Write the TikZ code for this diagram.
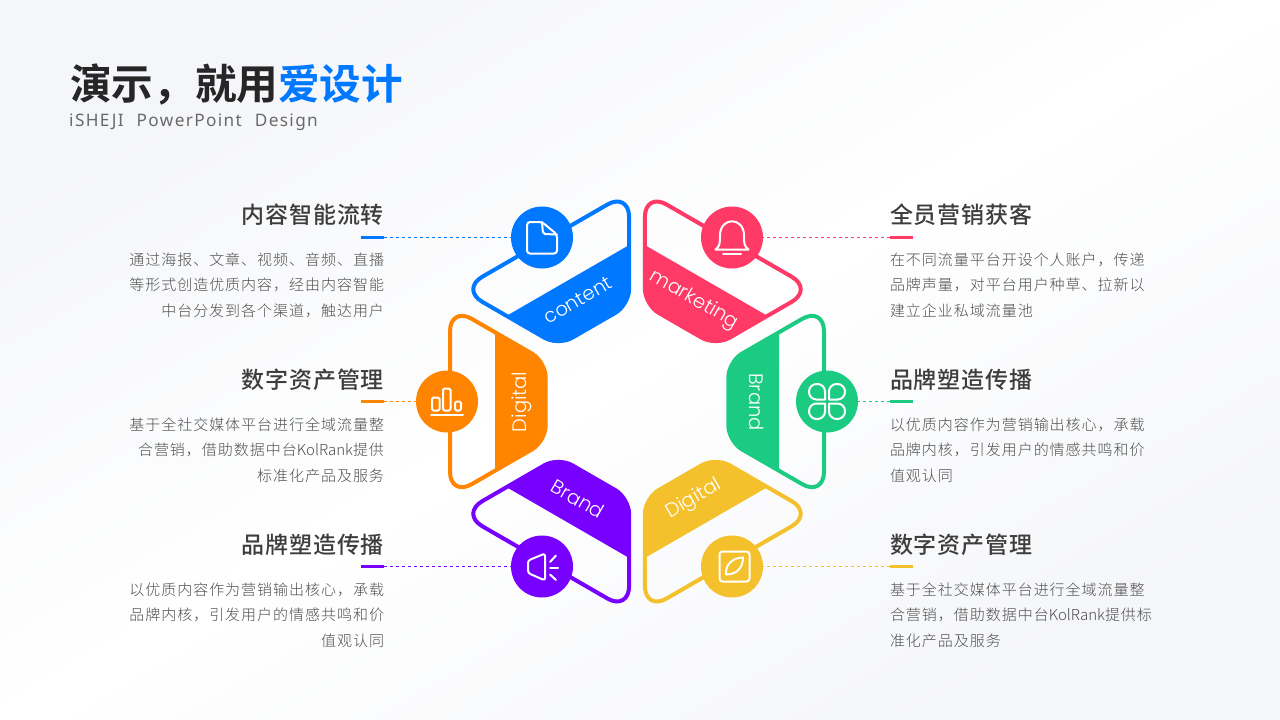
\documentclass[tikz,border=0pt]{standalone}
\usepackage{fontspec}
\newfontfamily\cjkhead[LetterSpace=4]{Noto Sans CJK SC Medium}
\newfontfamily\cjkbody[LetterSpace=6.5]{Noto Sans CJK SC Light}
\newfontfamily\cjklatin{Noto Sans CJK SC Light}
\newfontfamily\cjktitle{Noto Sans CJK SC Bold}
\newfontfamily\subfont[LetterSpace=8, WordSpace=2.2]{Noto Sans}
\newfontfamily\tilefont{Poppins Light}
\definecolor{conBlue}{HTML}{0078FF}
\definecolor{marRed}{HTML}{FF3A66}
\definecolor{digOrange}{HTML}{FF8500}
\definecolor{braGreen}{HTML}{1CCB82}
\definecolor{braPurple}{HTML}{7800FF}
\definecolor{digYellow}{HTML}{F4C02C}
\definecolor{headGray}{HTML}{3D3D3D}
\definecolor{bodyGray}{HTML}{4F4F4F}
\definecolor{subGray}{HTML}{6A6A6A}
\definecolor{backGray}{HTML}{F5F6F9}
\tikzstyle{headLeft} = [shape=rectangle, text=headGray, inner sep=0pt, align=right,
	text width=280pt, font=\cjkhead\fontsize{23}{26}\selectfont]
\tikzstyle{headRight} = [headLeft, align=left]
\tikzstyle{bodyLeft} = [shape=rectangle, text=bodyGray, inner sep=0pt, align=right,
	text width=280pt, font=\cjkbody\fontsize{15}{25.5}\selectfont]
\tikzstyle{bodyRight} = [bodyLeft, align=left]
\tikzstyle{tileText} = [text=white, inner sep=0pt, font=\tilefont\fontsize{19.5}{24}\selectfont]
\tikzstyle{iconDot} = [shape=circle, minimum size=62pt, inner sep=0pt]
\tikzstyle{iconLine} = [draw=white, line width=2pt, line join=round, line cap=round]
\tikzstyle{barLine} = [line width=3pt]
\tikzstyle{linkLine} = [line width=0.8pt, dash pattern=on 3pt off 3pt]
\begin{document}
\begin{tikzpicture}[x=1pt, y=-1pt, node distance=70pt]
  \shade[top color=backGray, bottom color=backGray, middle color=white, shading angle=30]
    (0,0) rectangle (1280,720);
  \useasboundingbox (0,0) rectangle (1280,720);

  \node (Title) [anchor=west, inner sep=0pt, text=black!85, font=\cjktitle\fontsize{41.6}{48}\selectfont] at (70,85)
    {演示，就用\textcolor{conBlue}{爱设计}};
  \node (Sub) [anchor=west, inner sep=0pt, text=subGray, font=\subfont\fontsize{17.2}{22}\selectfont] at (69,122)
    {iSHEJI PowerPoint Design};

  % six tiles of the ring
  \foreach \ang/\col/\sc/\dx/\dy in {0/digOrange/1/0/0, -60/conBlue/1.022/3.4/4.65, -120/marRed/1.022/-3.4/4.65,
      180/braGreen/1/0/0, 120/digYellow/1.022/-3.4/-4.65, 60/braPurple/1.022/3.4/-4.65} {
    \begin{scope}[shift={(637+\dx,401.5+\dy)}, rotate=\ang, scale=\sc]
      \fill[\col] (-142,-69.2) [rounded corners=16pt] -- (-91.3,-40) -- (-91.3,40) [sharp corners] -- (-142,69.2) -- cycle;
      \draw[\col, line width=4pt, rounded corners=25pt] (-187,0) -- (-187,-95.2) [rounded corners=16pt] -- (-91.3,-40) -- (-91.3,40) [rounded corners=25pt] -- (-187,95.2) -- cycle;
    \end{scope}
  }

  \node (ConWord) [tileText, rotate=30] at (578,300) {content};
  \node (MarWord) [tileText, rotate=-30] at (694,300) {marketing};
  \node (DigWord) [tileText, rotate=90] at (522,402) {Digital};
  \node (BraWord) [tileText, rotate=-90] at (757,402) {Brand};
  \node (PurWord) [tileText, rotate=-30] at (578,499) {Brand};
  \node (YelWord) [tileText, rotate=30] at (694,499) {Digital};

  \node (ConDot) [iconDot, fill=conBlue] at (542,237.5) {};
  \node (MarDot) [iconDot, fill=marRed] at (732,237.5) {};
  \node (DigDot) [iconDot, fill=digOrange] at (447,401.5) {};
  \node (BraDot) [iconDot, fill=braGreen] at (827,401.5) {};
  \node (PurDot) [iconDot, fill=braPurple] at (542,566.5) {};
  \node (YelDot) [iconDot, fill=digYellow] at (732,566.5) {};

  % icons
  \begin{scope}[shift={(ConDot.center)}]
    \draw[iconLine, rounded corners=3pt] (0,-15.5) -- (-15,-15.5) -- (-15,16) -- (15,16) -- (15,-3) -- cycle;
    \draw[iconLine, rounded corners=2pt] (0,-15.5) -- (1,-3.5) -- (15,-3);
  \end{scope}
  \begin{scope}[shift={(MarDot.center)}]
    \draw[iconLine] (-16.5,12) -- (16.5,12) .. controls (12,9) and (12,5) .. (12,-2)
      .. controls (12,-21) and (-12,-21) .. (-12,-2) .. controls (-12,5) and (-12,9) .. (-16.5,12) -- cycle;
    \draw[iconLine] (-9,16.5) -- (9,16.5);
  \end{scope}
  \begin{scope}[shift={(DigDot.center)}]
    \draw[iconLine, rounded corners=1.5pt] (-15,-4) rectangle (-7.5,9);
    \draw[iconLine, rounded corners=1.5pt] (-4,-13) rectangle (3.5,9);
    \draw[iconLine, rounded corners=1.5pt] (8,0) rectangle (14,9);
    \draw[iconLine] (-16,13.5) -- (16,13.5);
  \end{scope}
  \begin{scope}[shift={(BraDot.center)}]
    \foreach \sx/\sy in {1/1, -1/1, 1/-1, -1/-1}
      \draw[iconLine] ({\sx*2},{\sy*2}) [rounded corners=7.5pt] -- ({\sx*2},{\sy*17.5}) -- ({\sx*18},{\sy*17.5}) -- ({\sx*18},{\sy*2}) [sharp corners] -- cycle;
  \end{scope}
  \begin{scope}[shift={(PurDot.center)}]
    \draw[iconLine, rounded corners=2.5pt] (3,-13) -- (3,14) -- (-14,6.5) -- (-14,-6) -- cycle;
    \draw[iconLine] (8,1.5) -- (16,1.5);
    \draw[iconLine] (8,-4.5) -- (14,-11);
    \draw[iconLine] (8,8) -- (14,13.5);
  \end{scope}
  \begin{scope}[shift={(YelDot.center)}]
    \draw[iconLine, rounded corners=3pt] (-12.5,-15) rectangle (17.5,15);
    \draw[iconLine] (-6,8) .. controls (-7,-3) and (2,-9) .. (11,-9) .. controls (11,1) and (5,8) .. (-6,8) -- cycle;
  \end{scope}

  % left column
  \node (CON) [headLeft] at (244,215) {内容智能流转};
  \node (ConText) [bodyLeft, below of=CON] {通过海报、文章、视频、音频、直播\\等形式创造优质内容，经由内容智能\\中台分发到各个渠道，触达用户};
  \node (DIG) [headLeft] at (244,380) {数字资产管理};
  \node (DigText) [bodyLeft, below of=DIG] {基于全社交媒体平台进行全域流量整\\合营销，借助数据中台{\cjklatin KolRank}提供\\标准化产品及服务};
  \node (PUR) [headLeft] at (244,545) {品牌塑造传播};
  \node (PurText) [bodyLeft, below of=PUR] {以优质内容作为营销输出核心，承载\\品牌内核，引发用户的情感共鸣和价\\值观认同};

  % right column
  \node (MAR) [headRight] at (1030,215) {全员营销获客};
  \node (MarText) [bodyRight, below of=MAR] {在不同流量平台开设个人账户，传递\\品牌声量，对平台用户种草、拉新以\\建立企业私域流量池};
  \node (BRA) [headRight] at (1030,380) {品牌塑造传播};
  \node (BraText) [bodyRight, below of=BRA] {以优质内容作为营销输出核心，承载\\品牌内核，引发用户的情感共鸣和价\\值观认同};
  \node (YEL) [headRight] at (1030,545) {数字资产管理};
  \node (YelText) [bodyRight, below of=YEL] {基于全社交媒体平台进行全域流量整\\合营销，借助数据中台{\cjklatin KolRank}提供标\\准化产品及服务};

  \foreach \name/\col/\yy in {Con/conBlue/237.5, Dig/digOrange/401.5, Pur/braPurple/566.5} {
    \coordinate (\name BarA) at (361,\yy);
    \coordinate (\name BarB) at (384,\yy);
    \draw[barLine, \col] (\name BarA) -- (\name BarB);
    \draw[linkLine, \col] (\name BarB) -- (\name Dot);
  }
  \foreach \name/\col/\yy in {Mar/marRed/237.5, Bra/braGreen/401.5, Yel/digYellow/566.5} {
    \coordinate (\name BarA) at (890,\yy);
    \coordinate (\name BarB) at (913,\yy);
    \draw[barLine, \col] (\name BarA) -- (\name BarB);
    \draw[linkLine, \col] (\name BarA) -- (\name Dot);
  }
\end{tikzpicture}
\end{document}
